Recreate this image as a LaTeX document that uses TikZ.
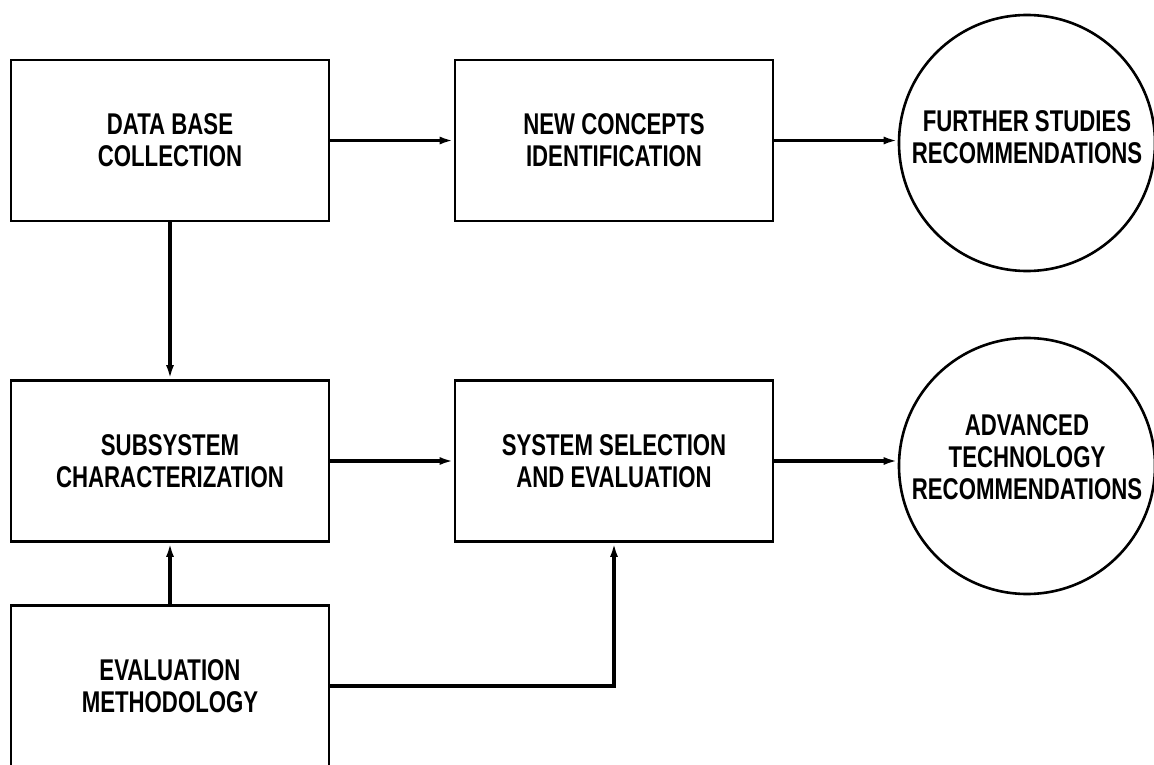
\documentclass[tikz,border=0pt]{standalone}
\usepackage{fontspec}
\setmainfont{Liberation Sans}[FakeStretch=0.74]
\usetikzlibrary{arrows.meta}
\begin{document}
\begin{tikzpicture}[x=1pt,y=-1pt,
  txt/.style={font=\fontsize{30}{32}\selectfont\bfseries,align=center},
  box/.style={txt,draw,line width=2.8pt,minimum width=318pt,minimum height=161pt,inner sep=0pt},
  circ/.style={txt,draw,circle,line width=2.6pt,minimum size=256pt,inner sep=0pt},
  conn/.style={line width=3.4pt,-{Latex[length=14pt,width=8pt]}}]
\useasboundingbox (0,0) rectangle (1154,765);
\clip (0,0) rectangle (1154,765);
\node[box] (dbc) at (170,140.5) {DATA BASE\\COLLECTION};
\node[box] (nci) at (614,140.5) {NEW CONCEPTS\\IDENTIFICATION};
\node[circ,text depth=12pt] (fsr) at (1027,143) {FURTHER STUDIES\\RECOMMENDATIONS};
\node[box] (sc) at (170,461) {SUBSYSTEM\\CHARACTERIZATION};
\node[box] (sse) at (614,461) {SYSTEM SELECTION\\AND EVALUATION};
\node[circ,text depth=18pt] (atr) at (1027,466) {ADVANCED\\TECHNOLOGY\\RECOMMENDATIONS};
\node[box] (em) at (170,686) {EVALUATION\\METHODOLOGY};
\draw[conn] (dbc.east) -- (nci.west);
\draw[conn] (nci.east) -- (nci.east -| fsr.west);
\draw[conn] (dbc.south) -- (sc.north);
\draw[conn] (sc.east) -- (sse.west);
\draw[conn] (sse.east) -- (sse.east -| atr.west);
\draw[conn] (em.north) -- (sc.south);
\draw[conn] (em.east) -| (sse.south);
\end{tikzpicture}
\end{document}
